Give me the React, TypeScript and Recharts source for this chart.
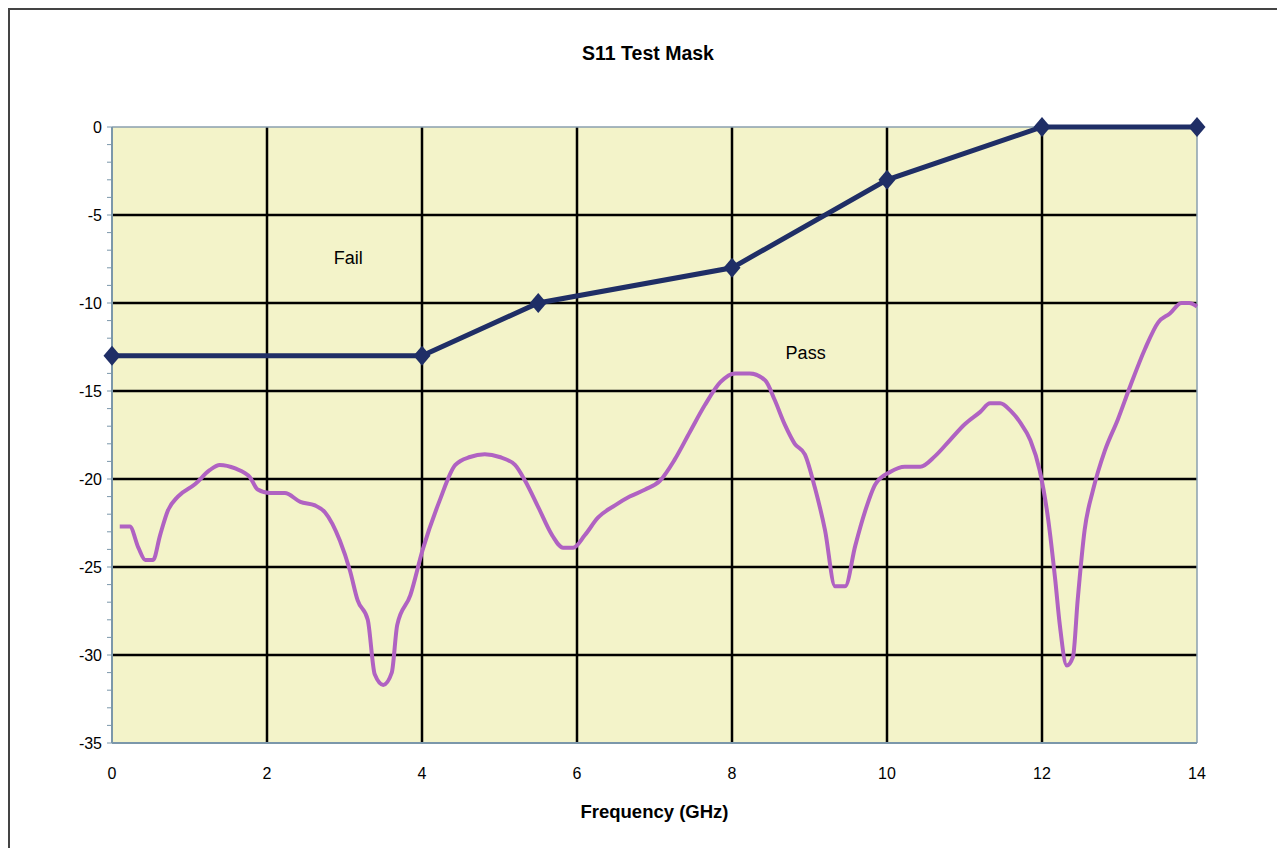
import {
  LineChart,
  Line,
  XAxis,
  YAxis,
  CartesianGrid,
  ReferenceLine,
  ReferenceDot,
} from 'recharts';

// S11 mask limit (GHz, dB)
const maskFreq = [0, 4, 5.5, 8, 10, 12, 14];
const maskDb = [-13, -13, -10, -8, -3, 0, 0];

const measFreq = [
  0.1, 0.23, 0.34, 0.43, 0.53, 0.62, 0.72, 0.85, 1.07, 1.26, 1.39, 1.59, 1.78, 1.88, 2.04,
  2.23, 2.43, 2.62, 2.75, 2.94, 3.07, 3.17, 3.3, 3.39, 3.5, 3.61, 3.68, 3.85, 4.01, 4.23,
  4.43, 4.62, 4.81, 5.0, 5.2, 5.33, 5.5, 5.68, 5.82, 5.95, 6.1, 6.27, 6.49, 6.68, 6.88,
  7.07, 7.26, 7.46, 7.65, 7.85, 8.04, 8.23, 8.43, 8.55, 8.68, 8.81, 8.94, 9.07, 9.2, 9.33,
  9.46, 9.59, 9.72, 9.85, 10.04, 10.23, 10.43, 10.62, 10.81, 11.0, 11.2, 11.33, 11.46,
  11.59, 11.72, 11.85, 11.97, 12.08, 12.17, 12.23, 12.32, 12.4, 12.46, 12.55, 12.66,
  12.81, 12.98, 13.14, 13.33, 13.5, 13.65, 13.8, 13.9, 14.0,
];
const measDb = [
  -22.7, -22.7, -23.9, -24.6, -24.6, -23.2, -21.8, -21.0, -20.3, -19.5, -19.2, -19.4, -19.9,
  -20.6, -20.8, -20.8, -21.3, -21.5, -21.9, -23.5, -25.2, -26.9, -28.0, -31.1, -31.7, -31.0,
  -28.3, -26.6, -24.0, -21.2, -19.2, -18.75, -18.6, -18.75, -19.2, -20.1, -21.6, -23.2,
  -23.9, -23.9, -23.2, -22.2, -21.5, -21.0, -20.6, -20.1, -18.9, -17.3, -15.8, -14.5, -14.0,
  -14.0, -14.4, -15.5, -16.9, -18.0, -18.6, -20.5, -22.9, -26.1, -26.1, -23.8, -21.8, -20.3,
  -19.6, -19.3, -19.3, -18.7, -17.8, -16.9, -16.2, -15.7, -15.7, -16.1, -16.8, -17.8, -19.5,
  -22.3, -25.7, -28.3, -30.6, -30.1, -26.9, -22.9, -20.6, -18.4, -16.6, -14.7, -12.6, -11.1,
  -10.6, -10.0, -10.0, -10.2,
];

const xTicks = [0, 2, 4, 6, 8, 10, 12, 14];
const yTicks = Array.from({ length: 36 }, (_, i) => i - 35);
const gridX = [2, 4, 6, 8, 10, 12];
const gridY = [-30, -25, -20, -15, -10, -5];

const notes = [
  { text: 'Fail', f: 3.05, db: -7.4 },
  { text: 'Pass', f: 8.95, db: -12.8 },
];

const maskData = maskFreq.map((f, i) => ({ f, db: maskDb[i] }));
const measData = measFreq.map((f, i) => ({ f, db: measDb[i] }));

const FONT = '"Liberation Sans", Arial, sans-serif';
const MASK = '#1f2e66';

function Diamond(props: any) {
  const { cx, cy, index } = props;
  if (cx == null || cy == null) return <g key={index} />;
  return (
    <polygon
      key={index}
      points={`${cx},${cy - 10} ${cx + 8.5},${cy} ${cx},${cy + 10} ${cx - 8.5},${cy}`}
      fill={MASK}
    />
  );
}

export default function App() {
  return (
    <div
      style={{
        position: 'relative',
        width: 1275,
        height: 838,
        borderLeft: '2px solid #444',
        borderTop: '2px solid #444',
        background: '#fff',
        fontFamily: FONT,
      }}
    >
      <style>{'html,body{overflow:hidden}'}</style>
      <div
        style={{
          position: 'absolute',
          left: 488,
          width: 300,
          top: 31,
          lineHeight: '24px',
          textAlign: 'center',
          fontWeight: 'bold',
          fontSize: 19.5,
        }}
      >
        S11 Test Mask
      </div>
      <LineChart
        width={1275}
        height={838}
        margin={{ top: 117, right: 88, left: 0, bottom: 65 }}
        style={{ fontFamily: FONT }}
      >
        <CartesianGrid
          fill="#f3f3c9"
          stroke="#000"
          strokeWidth={2.5}
          horizontalValues={gridY}
          verticalValues={gridX}
        />
        <XAxis
          type="number"
          dataKey="f"
          domain={[0, 14]}
          ticks={xTicks}
          interval={0}
          tickLine={false}
          tickMargin={19}
          height={40}
          axisLine={{ stroke: '#7b97aa', strokeWidth: 2 }}
          tick={{ fill: '#000', fontSize: 16 }}
          label={{
            value: 'Frequency (GHz)',
            position: 'bottom',
            offset: 22,
            fill: '#000',
            fontSize: 18.5,
            fontWeight: 'bold',
          }}
        />
        <YAxis
          type="number"
          domain={[-35, 0]}
          ticks={yTicks}
          interval={0}
          width={102}
          tickSize={5}
          tickMargin={5}
          tickFormatter={(v: number) => (v % 5 === 0 ? String(v) : '')}
          axisLine={{ stroke: '#7b97aa', strokeWidth: 2 }}
          tickLine={{ stroke: '#7b97aa' }}
          tick={{ fill: '#000', fontSize: 16 }}
        />
        <ReferenceLine y={0} stroke="#8a9fae" strokeWidth={1.5} />
        <ReferenceLine x={14} stroke="#8a9fae" strokeWidth={1.5} />
        {notes.map((n) => (
          <ReferenceDot
            key={n.text}
            x={n.f}
            y={n.db}
            r={0}
            fill="none"
            stroke="none"
            label={{ value: n.text, position: 'center', fill: '#000', fontSize: 18 }}
          />
        ))}
        <Line
          data={measData}
          dataKey="db"
          type="monotone"
          stroke="#b062c2"
          strokeWidth={4}
          dot={false}
          isAnimationActive={false}
        />
        <Line
          data={maskData}
          dataKey="db"
          type="linear"
          stroke={MASK}
          strokeWidth={5}
          dot={Diamond}
          activeDot={false}
          isAnimationActive={false}
        />
      </LineChart>
    </div>
  );
}
